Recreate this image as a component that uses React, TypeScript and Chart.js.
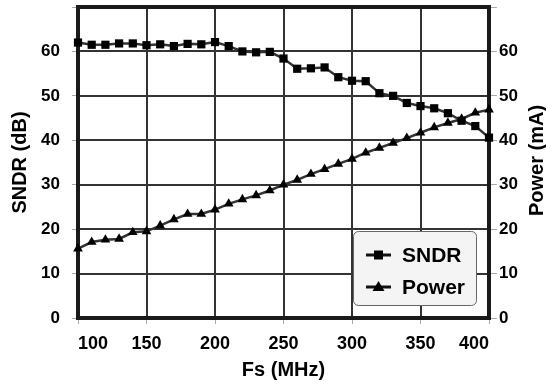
import React, { useEffect, useRef } from 'react';
import { Chart, registerables } from 'chart.js';

Chart.register(...registerables);

const fsMHz = [100, 110, 120, 130, 140, 150, 160, 170, 180, 190, 200, 210, 220, 230, 240, 250, 260, 270, 280, 290, 300, 310, 320, 330, 340, 350, 360, 370, 380, 390, 400];
const sndrDb = [62.0, 61.5, 61.5, 61.8, 61.8, 61.4, 61.6, 61.2, 61.7, 61.6, 62.1, 61.2, 60.0, 59.8, 59.9, 58.4, 56.1, 56.2, 56.4, 54.2, 53.4, 53.3, 50.6, 50.0, 48.4, 47.7, 47.2, 46.1, 44.4, 43.2, 40.6];
const powerMA = [15.6, 17.1, 17.6, 17.8, 19.3, 19.5, 20.8, 22.2, 23.4, 23.4, 24.4, 25.7, 26.7, 27.6, 28.7, 30.0, 31.1, 32.4, 33.5, 34.7, 35.8, 37.2, 38.3, 39.4, 40.5, 41.7, 42.9, 43.9, 44.8, 46.2, 46.9];
const xTickValues = [100, 150, 200, 250, 300, 350, 400];
const yTickValues = [0, 10, 20, 30, 40, 50, 60, 70];
const seriesNames = ['SNDR', 'Power'];
const xTitle = 'Fs (MHz)';
const yLeftTitle = 'SNDR (dB)';
const yRightTitle = 'Power (mA)';

const FONT = '"Liberation Sans", Arial, Helvetica, sans-serif';
const LINE = '#333333';
const GRID = '#333333';
const BORDER = '#1a1a1a';

const gridAndFrame = {
  id: 'gridAndFrame',
  beforeDatasetsDraw(chart: any) {
    const { ctx, chartArea: a, scales } = chart;
    const L = Math.round(a.left), R = Math.round(a.right);
    const T = Math.round(a.top), B = Math.round(a.bottom);
    ctx.save();
    ctx.setLineDash([]);
    ctx.globalAlpha = 1;
    ctx.globalCompositeOperation = 'source-over';
    ctx.fillStyle = GRID;
    const xs = scales.x;
    const ys = scales.y;
    xTickValues.forEach((v) => {
      const px = Math.round(xs.getPixelForValue(v));
      ctx.fillRect(px - 1, T, 2, B - T);
    });
    yTickValues.forEach((v) => {
      const py = Math.round(ys.getPixelForValue(v));
      ctx.fillRect(L, py - 1, R - L, 2);
    });
    ctx.fillStyle = BORDER;
    ctx.fillRect(L - 2, T - 2, R - L + 4, 4);
    ctx.fillRect(L - 2, B - 2, R - L + 4, 4);
    ctx.fillRect(L - 2, T - 2, 4, B - T + 4);
    ctx.fillRect(R - 2, T - 2, 4, B - T + 4);
    ctx.restore();
  },
};

const overlay = {
  id: 'overlay',
  afterDraw(chart: any) {
    const { ctx, chartArea } = chart;
    ctx.save();
    ctx.translate(chartArea.right + 48, (chartArea.top + chartArea.bottom) / 2 - 2);
    ctx.rotate(-Math.PI / 2);
    ctx.font = `bold 20px ${FONT}`;
    ctx.textAlign = 'center';
    ctx.textBaseline = 'middle';
    ctx.fillStyle = '#000';
    ctx.fillText(yRightTitle, 0, 0);
    ctx.restore();

    const bw = 123, bh = 74;
    const bx = Math.round(chartArea.right) - 13 - bw;
    const by = Math.round(chartArea.bottom) - 13 - bh;
    ctx.save();
    ctx.setLineDash([]);
    ctx.beginPath();
    (ctx as any).roundRect(bx + 0.5, by + 0.5, bw, bh, 5);
    ctx.fillStyle = '#f4f4f4';
    ctx.fill();
    ctx.lineWidth = 1;
    ctx.strokeStyle = '#666';
    ctx.stroke();

    const rows = [by + 24, by + 56];
    rows.forEach((yy, i) => {
      const lx0 = bx + 13, lx1 = bx + 38, cx = (lx0 + lx1) / 2;
      ctx.fillStyle = '#111';
      ctx.fillRect(lx0, yy - 1.5, lx1 - lx0, 3);
      ctx.fillStyle = '#000';
      ctx.beginPath();
      if (i === 0) {
        ctx.rect(cx - 4.5, yy - 4.5, 9, 9);
      } else {
        ctx.moveTo(cx, yy - 6);
        ctx.lineTo(cx + 6, yy + 4);
        ctx.lineTo(cx - 6, yy + 4);
        ctx.closePath();
      }
      ctx.fill();
      ctx.font = `bold 21px ${FONT}`;
      ctx.textAlign = 'left';
      ctx.textBaseline = 'middle';
      ctx.fillText(seriesNames[i], bx + 49, yy + 1);
    });
    ctx.restore();
  },
};

export default function App() {
  const ref = useRef<HTMLCanvasElement | null>(null);
  useEffect(() => {
    if (!ref.current) return;
    const fitX = (s: any) => { s.height = 68; s.paddingLeft = 0; s.paddingRight = 0; };
    const fitY = (w: number) => (s: any) => { s.width = w; s.paddingTop = 0; s.paddingBottom = 0; };
    const tickGrid = (len: number) => ({
      display: true,
      drawOnChartArea: false,
      drawTicks: true,
      color: '#aaa',
      lineWidth: 1,
      tickLength: len,
      tickColor: '#aaa',
      tickWidth: 1,
    });
    const chart = new Chart(ref.current, {
      type: 'line',
      data: {
        datasets: [
          {
            label: seriesNames[0],
            data: fsMHz.map((x, i) => ({ x, y: sndrDb[i] })),
            yAxisID: 'y',
            borderColor: LINE,
            borderWidth: 2.5,
            backgroundColor: '#000',
            fill: false,
            pointStyle: 'rect',
            pointRadius: 5.8,
            pointBorderWidth: 0,
            pointBackgroundColor: '#000',
            tension: 0,
            clip: 10,
          },
          {
            label: seriesNames[1],
            data: fsMHz.map((x, i) => ({ x, y: powerMA[i] })),
            yAxisID: 'y1',
            borderColor: LINE,
            borderWidth: 2.5,
            backgroundColor: '#000',
            fill: false,
            pointStyle: 'triangle',
            pointRadius: 5.6,
            pointBorderWidth: 0,
            pointBackgroundColor: '#000',
            tension: 0,
            clip: 10,
          },
        ],
      },
      options: {
        animation: false,
        responsive: false,
        layout: { padding: { top: 7, left: 0, right: 0, bottom: 0 } },
        plugins: { legend: { display: false }, tooltip: { enabled: false } },
        scales: {
          x: {
            type: 'linear',
            min: 100,
            max: 400,
            afterFit: fitX,
            ticks: {
              stepSize: 50,
              align: 'inner',
              padding: 9,
              color: '#000',
              font: { family: FONT, size: 18, weight: 'bold' },
              maxRotation: 0,
            },
            grid: tickGrid(6),
            border: { display: false },
            title: {
              display: true,
              text: xTitle,
              color: '#000',
              font: { family: FONT, size: 20, weight: 'bold' },
              padding: { top: 0, bottom: 4 },
            },
          },
          y: {
            type: 'linear',
            position: 'left',
            min: 0,
            max: 70,
            afterFit: fitY(78),
            ticks: {
              stepSize: 10,
              padding: 12,
              color: '#000',
              font: { family: FONT, size: 17, weight: 'bold' },
              callback: (v: any) => (v === 70 ? '' : String(v)),
            },
            grid: tickGrid(6),
            border: { display: false },
            title: {
              display: true,
              text: yLeftTitle,
              color: '#000',
              font: { family: FONT, size: 20, weight: 'bold' },
              padding: { top: 8, bottom: 0 },
            },
          },
          y1: {
            type: 'linear',
            position: 'right',
            min: 0,
            max: 70,
            afterFit: fitY(57),
            ticks: {
              stepSize: 10,
              padding: 2,
              color: '#000',
              font: { family: FONT, size: 17, weight: 'bold' },
              callback: (v: any) => (v === 70 ? '' : String(v)),
            },
            grid: tickGrid(8),
            border: { display: false },
            title: { display: false },
          },
        },
      } as any,
      plugins: [gridAndFrame, overlay],
    });
    return () => chart.destroy();
  }, []);

  return (
    <div style={{ position: 'fixed', left: 0, top: 0, width: 546, height: 386, background: '#fff' }}>
      <canvas ref={ref} width={546} height={386} style={{ display: 'block' }} />
    </div>
  );
}
